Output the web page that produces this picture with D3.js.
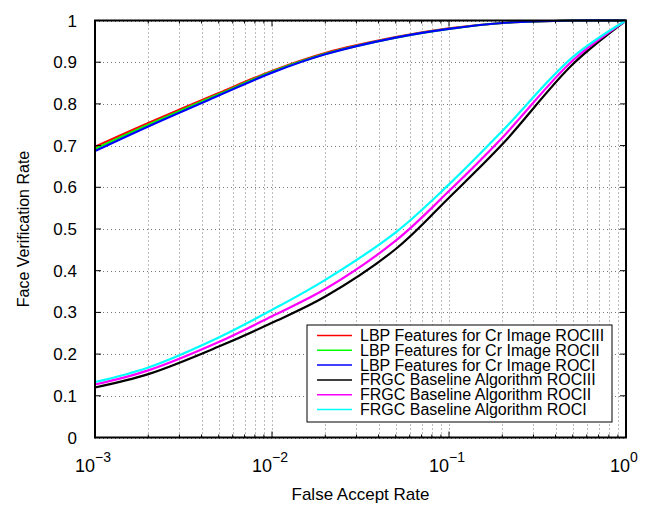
<!DOCTYPE html>
<html>
<head>
<meta charset="utf-8">
<script src="https://cdn.jsdelivr.net/npm/d3@7"></script>
<style>
  body { margin: 0; background: #fff; }
  svg { font-family: "Liberation Sans", Arial, sans-serif; }
</style>
</head>
<body>
<div id="chart"></div>
<script>
// false accept rate sample points
const far = [0.001, 0.002, 0.005, 0.01, 0.02, 0.05, 0.1, 0.2, 0.5, 1];

const lbpRocIII = [0.697, 0.754, 0.826, 0.879, 0.922, 0.960, 0.981, 0.994, 1, 1];
const lbpRocII  = [0.692, 0.750, 0.823, 0.877, 0.920, 0.959, 0.980, 0.994, 1, 1];
const lbpRocI   = [0.687, 0.746, 0.820, 0.875, 0.919, 0.959, 0.980, 0.994, 1, 1];
const frgcRocIII = [0.120, 0.152, 0.218, 0.275, 0.338, 0.452, 0.575, 0.703, 0.895, 1];
const frgcRocII  = [0.127, 0.161, 0.229, 0.291, 0.356, 0.472, 0.591, 0.719, 0.904, 1];
const frgcRocI   = [0.133, 0.168, 0.240, 0.306, 0.378, 0.492, 0.607, 0.735, 0.912, 1];

const seriesNames = [
  'LBP Features for Cr Image ROCIII',
  'LBP Features for Cr Image ROCII',
  'LBP Features for Cr Image ROCI',
  'FRGC Baseline Algorithm ROCIII',
  'FRGC Baseline Algorithm ROCII',
  'FRGC Baseline Algorithm ROCI'
];
const seriesValues = [lbpRocIII, lbpRocII, lbpRocI, frgcRocIII, frgcRocII, frgcRocI];
const seriesColors = ['#ff0000', '#00ff00', '#0000ff', '#000000', '#ff00ff', '#00ffff'];

const yTicks = [0, 0.1, 0.2, 0.3, 0.4, 0.5, 0.6, 0.7, 0.8, 0.9, 1];
const xMajor = [0.001, 0.01, 0.1, 1];
const xExponents = ['\u22123', '\u22122', '\u22121', '0'];

const width = 653, height = 505;
const m = { left: 95, right: 27, top: 20.5, bottom: 67.5 };

const svg = d3.select('#chart').append('svg')
  .attr('width', width)
  .attr('height', height);

const x = d3.scaleLog().domain([0.001, 1]).range([m.left, width - m.right]);
const y = d3.scaleLinear().domain([0, 1]).range([height - m.bottom, m.top]);

// minor positions 2..9 in each decade
const xMinor = [];
[0.001, 0.01, 0.1].forEach(d => {
  for (let k = 2; k <= 9; k++) xMinor.push(d * k);
});

// grid
const grid = svg.append('g')
  .attr('stroke', '#777')
  .attr('stroke-width', 1)
  .attr('stroke-dasharray', '1,3');

xMinor.concat(xMajor).forEach(v => {
  grid.append('line')
    .attr('x1', Math.round(x(v)) + 0.5).attr('x2', Math.round(x(v)) + 0.5)
    .attr('y1', y(1)).attr('y2', y(0));
});
yTicks.forEach(v => {
  grid.append('line')
    .attr('x1', x(0.001)).attr('x2', x(1))
    .attr('y1', Math.round(y(v)) + 0.5).attr('y2', Math.round(y(v)) + 0.5);
});

// curves
const line = d3.line()
  .x((d, i) => x(far[i]))
  .y(d => y(Math.min(d, 1)))
  .curve(d3.curveCatmullRom.alpha(0.5));

seriesValues.forEach((vals, i) => {
  svg.append('path')
    .datum(vals)
    .attr('fill', 'none')
    .attr('stroke', seriesColors[i])
    .attr('stroke-width', 2.2)
    .attr('d', line);
});

// axes box with inward ticks
const axisColor = '#000';
const ticks = svg.append('g').attr('stroke', axisColor).attr('stroke-width', 1);
yTicks.forEach(v => {
  ticks.append('line').attr('x1', x(0.001)).attr('x2', x(0.001) + 6).attr('y1', y(v)).attr('y2', y(v));
  ticks.append('line').attr('x1', x(1)).attr('x2', x(1) - 6).attr('y1', y(v)).attr('y2', y(v));
});
xMajor.forEach(v => {
  ticks.append('line').attr('x1', x(v)).attr('x2', x(v)).attr('y1', y(0)).attr('y2', y(0) - 6);
  ticks.append('line').attr('x1', x(v)).attr('x2', x(v)).attr('y1', y(1)).attr('y2', y(1) + 6);
});
xMinor.forEach(v => {
  ticks.append('line').attr('x1', x(v)).attr('x2', x(v)).attr('y1', y(0)).attr('y2', y(0) - 3);
  ticks.append('line').attr('x1', x(v)).attr('x2', x(v)).attr('y1', y(1)).attr('y2', y(1) + 3);
});

svg.append('rect')
  .attr('x', x(0.001)).attr('y', y(1))
  .attr('width', x(1) - x(0.001)).attr('height', y(0) - y(1))
  .attr('fill', 'none')
  .attr('stroke', axisColor)
  .attr('stroke-width', 2);

// y tick labels
svg.append('g').selectAll('text')
  .data(yTicks)
  .join('text')
  .attr('x', x(0.001) - 18)
  .attr('y', d => y(d) + 6)
  .attr('text-anchor', 'end')
  .attr('font-size', 17)
  .text(d => d3.format('~g')(d));

// x tick labels 10^n
xMajor.forEach((v, i) => {
  const t = svg.append('text')
    .attr('x', x(v) - 2)
    .attr('y', 472)
    .attr('text-anchor', 'middle')
    .attr('font-size', 18);
  t.append('tspan').text('10');
  t.append('tspan').attr('dy', -10).attr('font-size', 14).text(xExponents[i]);
});

// axis titles
svg.append('text')
  .attr('x', (x(0.001) + x(1)) / 2)
  .attr('y', 500)
  .attr('text-anchor', 'middle')
  .attr('font-size', 17)
  .text('False Accept Rate');

svg.append('text')
  .attr('transform', `translate(29,${(y(0) + y(1)) / 2}) rotate(-90)`)
  .attr('text-anchor', 'middle')
  .attr('font-size', 16)
  .text('Face Verification Rate');

// legend
const lg = svg.append('g').attr('transform', 'translate(307,325)');
lg.append('rect')
  .attr('width', 305).attr('height', 97)
  .attr('fill', '#fff')
  .attr('stroke', '#000')
  .attr('stroke-width', 1);

seriesNames.forEach((name, i) => {
  const ry = 10.5 + i * 14.8;
  lg.append('line')
    .attr('x1', 10).attr('x2', 45)
    .attr('y1', ry).attr('y2', ry)
    .attr('stroke', seriesColors[i])
    .attr('stroke-width', 1.5);
  lg.append('text')
    .attr('x', 53)
    .attr('y', ry + 5.5)
    .attr('font-size', 16)
    .text(name);
});
</script>
</body>
</html>
